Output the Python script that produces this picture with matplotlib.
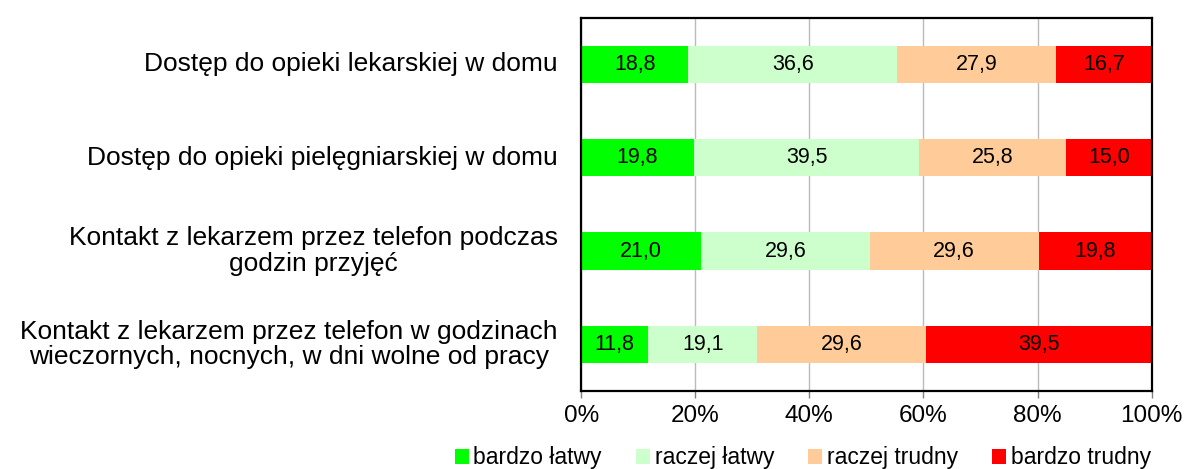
import matplotlib

matplotlib.use("Agg")
import matplotlib.pyplot as plt
import numpy as np

plt.rcParams["font.family"] = ["Liberation Sans", "DejaVu Sans"]

categories = [
    "Dostęp do opieki lekarskiej w domu",
    "Dostęp do opieki pielęgniarskiej w domu",
    "Kontakt z lekarzem przez telefon podczas\ngodzin przyjęć",
    "Kontakt z lekarzem przez telefon w godzinach\nwieczornych, nocnych, w dni wolne od pracy",
]
series_names = ["bardzo łatwy", "raczej łatwy", "raczej trudny", "bardzo trudny"]
bardzo_latwy = [18.8, 19.8, 21.0, 11.8]
raczej_latwy = [36.6, 39.5, 29.6, 19.1]
raczej_trudny = [27.9, 25.8, 29.6, 29.6]
bardzo_trudny = [16.7, 15.0, 19.8, 39.5]
colors = ["#00FF00", "#CCFFCC", "#FFCC99", "#FF0000"]

fig = plt.figure(figsize=(11.86, 4.69), dpi=100)
ax = fig.add_axes([0.49, 0.166, 0.481, 0.796])

data = np.array([bardzo_latwy, raczej_latwy, raczej_trudny, bardzo_trudny])
totals = data.sum(axis=0)
y = np.arange(len(categories))
left = np.zeros(len(categories))
for vals, name, col in zip(data, series_names, colors):
    pct = vals / totals * 100
    ax.barh(y, pct, left=left, height=0.4, color=col, label=name, zorder=2)
    for yi, l, p, v in zip(y, left, pct, vals):
        ax.text(l + p / 2, yi, f"{v:.1f}".replace(".", ","), ha="center", va="center",
                fontsize=15.5, zorder=3)
    left += pct

ax.set_xlim(0, 100)
ax.set_ylim(len(categories) - 0.5, -0.5)
ax.set_yticks(y)
ax.set_yticklabels([])
ax.tick_params(axis="y", length=0)
# category labels, right-aligned block with centred lines
for yi, cat in zip(y, categories):
    ax.annotate(cat, xy=(0, yi), xycoords=("axes fraction", "data"),
                xytext=(-17, 0), textcoords="offset points",
                ha="right", va="center", multialignment="center",
                fontsize=19, linespacing=1.1)
ax.set_xticks(np.arange(0, 101, 20))
ax.set_xticklabels([f"{t}%" for t in range(0, 101, 20)], fontsize=17.5)
ax.tick_params(axis="x", length=5, width=1, color="#808080", pad=5)
ax.grid(axis="x", color="#BBBBBB", linewidth=1, zorder=0)
for s in ax.spines.values():
    s.set_linewidth(1.6)
    s.set_color("black")

fig.legend(loc="lower center", bbox_to_anchor=(0.677, -0.045), ncol=4, frameon=False,
           fontsize=16.5, handlelength=0.6, handleheight=0.6, handletextpad=0.2,
           columnspacing=1.5)

fig.savefig("out.png", dpi=100)
